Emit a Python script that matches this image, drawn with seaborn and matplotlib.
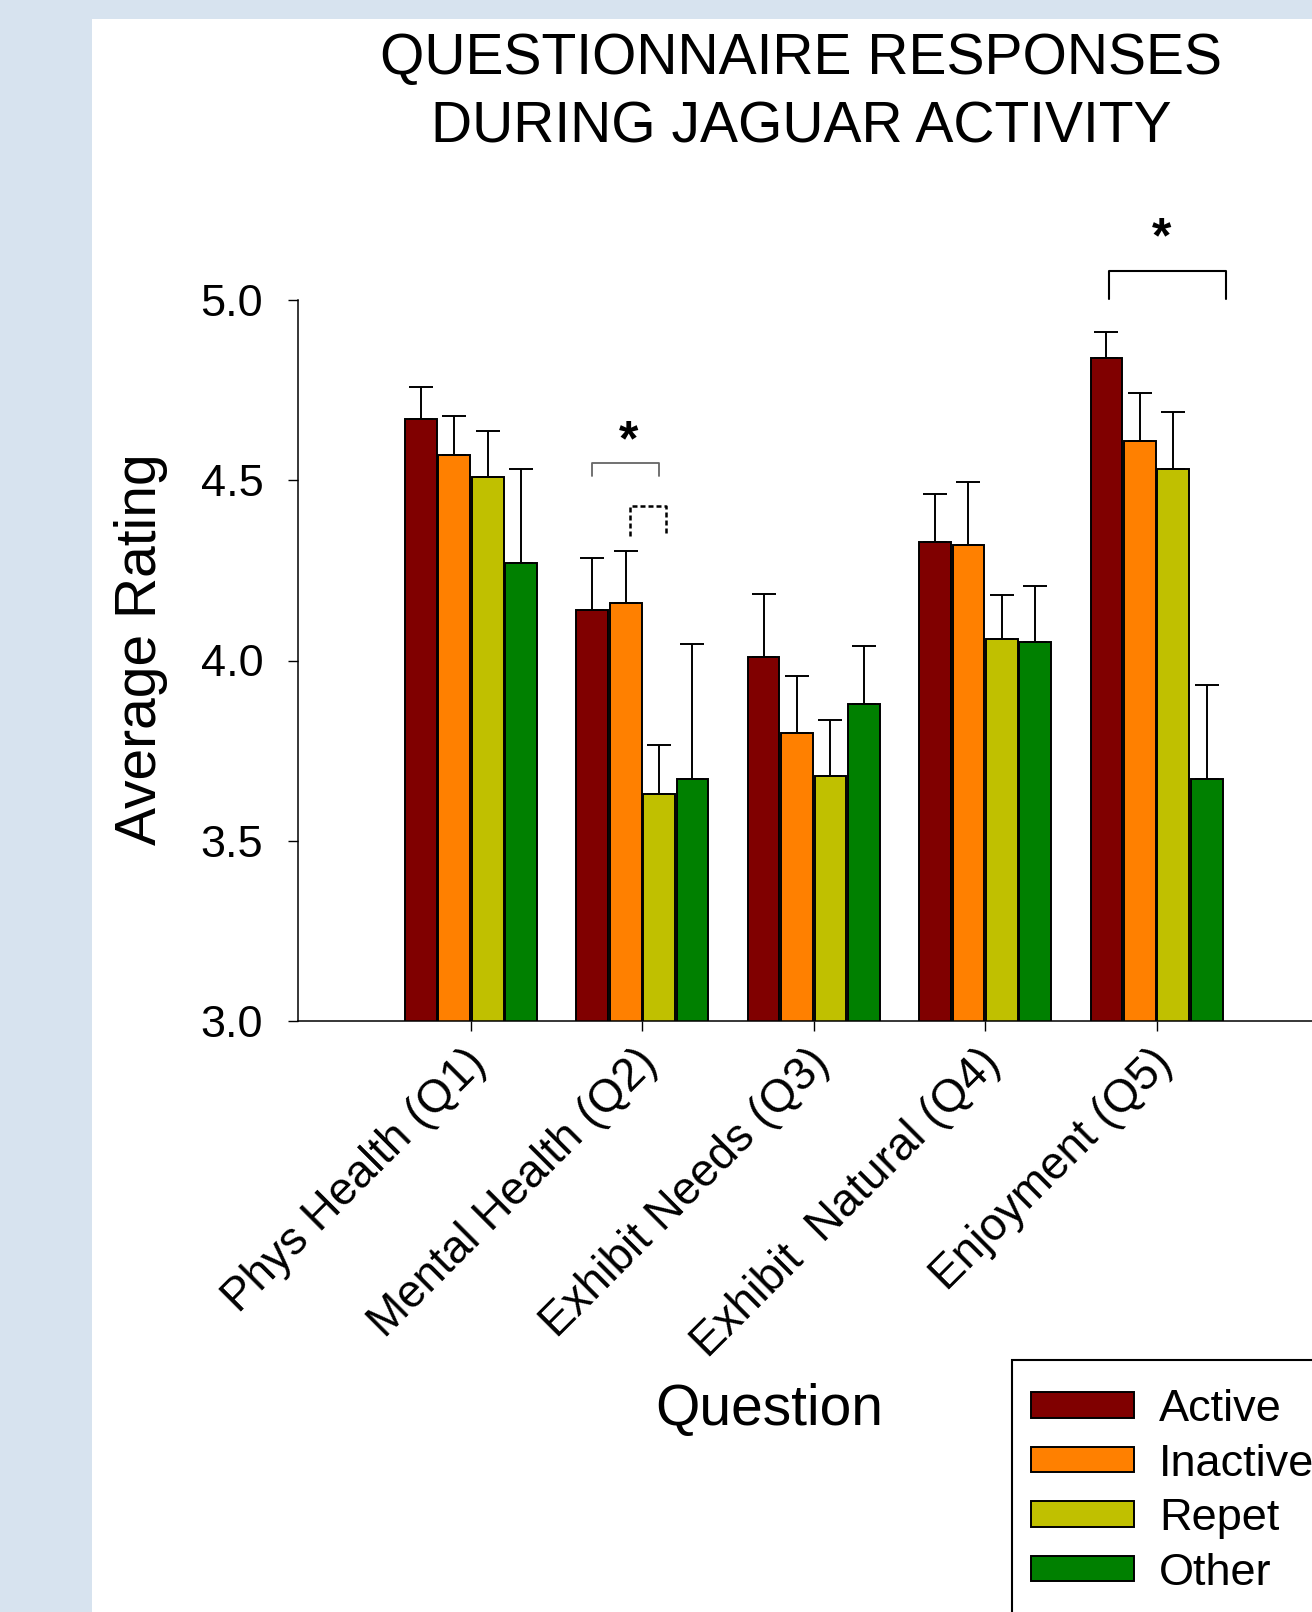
import numpy as np
import pandas as pd
import matplotlib
matplotlib.use("Agg")
import matplotlib.pyplot as plt
import matplotlib.patches as mpatches
import matplotlib.transforms as mtransforms
import seaborn as sns

# Veriler (grafikten okunan ortalamalar ve üst hata payları)
sorular = ["Phys Health (Q1)", "Mental Health (Q2)", "Exhibit Needs (Q3)",
           "Exhibit  Natural (Q4)", "Enjoyment (Q5)"]
durumlar = ["Active", "Inactive", "Repet", "Other"]

active = [4.67, 4.14, 4.01, 4.33, 4.84]
inactive = [4.57, 4.16, 3.80, 4.32, 4.61]
repet = [4.51, 3.63, 3.68, 4.06, 4.53]
other = [4.27, 3.67, 3.88, 4.05, 3.67]

active_err = [0.09, 0.143, 0.174, 0.131, 0.072]
inactive_err = [0.108, 0.143, 0.157, 0.174, 0.131]
repet_err = [0.126, 0.135, 0.154, 0.123, 0.16]
other_err = [0.262, 0.376, 0.159, 0.157, 0.262]

renkler = ["#800000", "#FF8000", "#C0C000", "#008000"]

# uzun formatta tablo
degerler = [active, inactive, repet, other]
hatalar = [active_err, inactive_err, repet_err, other_err]
satirlar = []
for d, vals, errs in zip(durumlar, degerler, hatalar):
    for s, v, e in zip(sorular, vals, errs):
        satirlar.append({"Question": s, "Condition": d, "Rating": v, "Err": e})
df = pd.DataFrame(satirlar)

sns.set_style("white")
plt.rcParams["font.family"] = ["Liberation Sans", "DejaVu Sans"]
plt.rcParams["text.color"] = "black"
plt.rcParams["axes.labelcolor"] = "black"
plt.rcParams["xtick.color"] = "black"
plt.rcParams["ytick.color"] = "black"

fig = plt.figure(figsize=(13.12, 16.12), dpi=100)
fig.patch.set_facecolor("#D7E3EF")
# beyaz çalışma alanı (sol ve üst kenarda mavi şerit kalıyor)
fig.patches.append(mpatches.Rectangle((92 / 1312, -0.05), 1, 1.05 - 19 / 1612,
                                      transform=fig.transFigure,
                                      facecolor="white", edgecolor="none", zorder=-5))

ax = fig.add_axes([298 / 1312, 1 - 1021 / 1612, 1 - 298 / 1312, 721 / 1612])
ax.set_facecolor("none")

sns.barplot(data=df, x="Question", y="Rating", hue="Condition", order=sorular,
            hue_order=durumlar, palette=renkler, width=0.78, gap=0.05,
            edgecolor="black", linewidth=1.4, errorbar=None, saturation=1,
            legend=False, ax=ax)

# hata çubukları (sadece yukarı)
hata_map = {(sorular.index(r.Question), round(r.Rating, 3)): r.Err for r in df.itertuples()}
for p in list(ax.patches):
    xc = p.get_x() + p.get_width() / 2
    h = p.get_height()
    e = hata_map[(int(round(xc)), round(h, 3))]
    ax.errorbar(xc, h, yerr=[[0], [e]], fmt="none", ecolor="black",
                elinewidth=1.4, capsize=8.5, capthick=1.4, zorder=1)

ax.set_ylim(3.0, 5.0)
ax.set_xlim(-1.009, 4.907)
ax.set_yticks([3.0, 3.5, 4.0, 4.5, 5.0])
ax.set_yticklabels(["3.0", "3.5", "4.0", "4.5", "5.0"])
ax.set_xticks(range(len(sorular)))
ax.set_xticklabels(sorular, rotation=45, ha="right", va="center", rotation_mode="anchor")
ax.tick_params(axis="y", direction="out", length=7, width=1, pad=18, labelsize=32.5, left=True)
ax.tick_params(axis="x", direction="out", length=7, width=1, pad=22, labelsize=33, bottom=True)
# etiketleri biraz sağa ve yukarı kaydır
kaydir = mtransforms.ScaledTranslation(0.085, 0.05, fig.dpi_scale_trans)
for lbl in ax.get_xticklabels():
    lbl.set_transform(lbl.get_transform() + kaydir)
for k in ["top", "right"]:
    ax.spines[k].set_visible(False)
for k in ["left", "bottom"]:
    ax.spines[k].set_color("black")
    ax.spines[k].set_linewidth(1.1)

ax.set_ylabel("Average Rating", fontsize=41, va="center")
ax.yaxis.set_label_coords(-0.155, 0.516)
ax.set_xlabel("Question", fontsize=41, va="center")
ax.xaxis.set_label_coords(0.4645, -0.54)

fig.suptitle("QUESTIONNAIRE RESPONSES\nDURING JAGUAR ACTIVITY", x=0.6105,
             y=1 - 93.5 / 1612, va="center", fontsize=41, linespacing=1.34)

# anlamlılık işaretleri
ax.plot([0.7075, 0.7075, 1.0975, 1.0975], [4.512, 4.549, 4.549, 4.512],
        color="#666666", lw=1.3, clip_on=False)
ax.text(0.919, 4.569, "*", fontsize=36, fontweight="bold", ha="center", va="baseline")
ax.plot([0.928, 0.928, 1.139, 1.139], [4.346, 4.429, 4.429, 4.346],
        color="black", lw=1.8, ls=(0, (2, 1.2)), clip_on=False)
ax.plot([3.723, 3.723, 4.405, 4.405], [5.003, 5.080, 5.080, 5.003],
        color="black", lw=1.5, clip_on=False)
ax.text(4.032, 5.133, "*", fontsize=36, fontweight="bold", ha="center", va="baseline")

# lejant: çerçeve ayrı çiziliyor (sağ ve alt kenardan taşıyor)
fig.patches.append(mpatches.Rectangle((1012 / 1312, -0.05), 1, 1.05 - 1360 / 1612,
                                      transform=fig.transFigure, facecolor="white",
                                      edgecolor="black", linewidth=1.5, zorder=-1))
tutamaclar = [mpatches.Patch(facecolor=c, edgecolor="black", linewidth=1.4) for c in renkler]
leg = fig.legend(tutamaclar, durumlar, loc="upper left",
                 bbox_to_anchor=(1031 / 1312, 1 - 1389 / 1612), bbox_transform=fig.transFigure,
                 frameon=False, fontsize=32.5,
                 handlelength=2.29, handleheight=0.5, handletextpad=0.55,
                 labelspacing=0.3, borderpad=0, borderaxespad=0)

fig.savefig("out.png", dpi=100, facecolor=fig.get_facecolor())
